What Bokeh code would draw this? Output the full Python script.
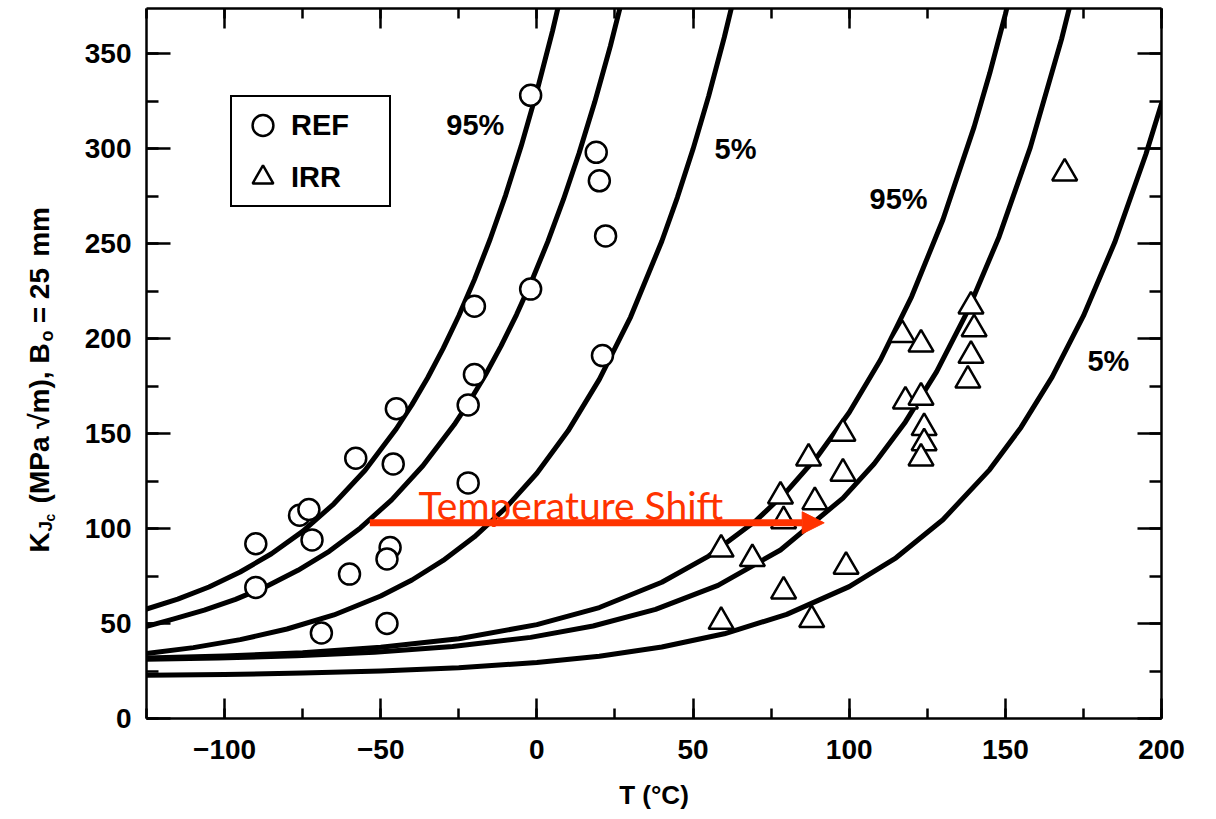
import math
from bokeh.plotting import figure
from bokeh.layouts import row
from bokeh.models import (Range1d, LinearAxis, SingleIntervalTicker, Arrow, NormalHead,
                          Legend, LegendItem, CustomJSTickFormatter)
from bokeh.core.properties import value
from bokeh.embed import file_html
from bokeh.resources import INLINE

FONT = "Liberation Sans"
RED = "#ff3300"

# ---------------- data ----------------
# measured toughness, reference (unirradiated) material
ref_temp = [-2, 19, 20, 22, -20, -2, 21, -20, -22, -45, -58, -46, -22, -76, -73, -72,
            -90, -90, -47, -48, -60, -69, -48]
ref_kjc = [328, 298, 283, 254, 217, 226, 191, 181, 165, 163, 137, 134, 124, 107, 110, 94,
           92, 69, 90, 84, 76, 45, 50]

# measured toughness, irradiated material
irr_temp = [59, 69, 59, 79, 88, 99, 78, 79, 89, 87, 98, 98, 118, 117, 123, 124, 124, 123,
            123, 139, 140, 139, 138, 169]
irr_kjc = [89, 84, 51, 67, 52, 80, 117, 104, 114, 137, 150, 129, 167, 202, 169, 153, 145,
           137, 197, 217, 205, 191, 178, 287]

# tolerance-bound curves, reference material
ref95_t = [-125, -115, -105, -95, -85, -75, -65, -55, -45, -40, -35, -30, -25, -20, -15,
           -10, -5, 0, 5, 10]
ref95_k = [57.6, 62.8, 69.2, 77.1, 86.7, 98.5, 113.0, 130.7, 152.5, 165.2, 179.2, 194.8,
           212.0, 231.0, 252.1, 275.5, 301.4, 330.1, 361.8, 396.9]
ref50_t = [-125, -116.5, -106.5, -96.5, -86.5, -76.5, -66.5, -56.5, -46.5, -36.5, -26.5,
           -21.5, -16.5, -11.5, -6.5, -1.5, 3.5, 8.5, 13.5, 18.5, 23.5, 28.5]
ref50_k = [48.5, 52.3, 57.0, 62.7, 69.6, 78.0, 88.0, 100.3, 115.1, 133.0, 154.6, 167.1,
           180.8, 196.0, 212.6, 230.9, 251.0, 273.2, 297.5, 324.3, 353.8, 386.3]
ref05_t = [-125, -110, -95, -80, -65, -50, -40, -30, -20, -10, 0, 10, 20, 30, 40, 45, 50,
           55, 60, 65]
ref05_k = [34.2, 37.3, 41.5, 47.1, 54.5, 64.5, 72.9, 83.2, 95.6, 110.8, 129.1, 151.4,
           178.5, 211.3, 251.2, 274.3, 299.7, 327.6, 358.5, 392.4]

# tolerance-bound curves, irradiated material
irr95_t = [-125, -100, -75, -50, -25, 0, 20, 40, 55, 70, 80, 90, 100, 110, 120, 130, 140,
           145, 150, 155]
irr95_k = [31.8, 32.9, 34.6, 37.5, 42.0, 49.4, 58.4, 71.7, 85.5, 103.9, 119.5, 138.3,
           161.1, 188.7, 222.1, 262.5, 311.4, 339.6, 370.6, 404.8]
irr50_t = [-125, -102, -77, -52, -27, -2, 18, 38, 58, 78, 98, 108, 118, 128, 138, 148, 158,
           168, 173]
irr50_k = [31.2, 31.9, 33.0, 34.9, 37.9, 42.7, 48.7, 57.4, 70.1, 88.7, 116.0, 134.1, 156.1,
           182.6, 214.7, 253.6, 300.6, 357.6, 390.4]
irr05_t = [-125, -100, -75, -50, -25, 0, 20, 40, 60, 80, 100, 115, 130, 145, 155, 165, 175,
           185, 195, 200]
irr05_k = [22.7, 23.2, 23.9, 25.0, 26.7, 29.5, 32.8, 37.6, 44.6, 54.8, 69.4, 84.6, 104.6,
           131.0, 153.2, 179.8, 211.9, 250.5, 297.0, 323.6]

# curve labels
curve_label_text = ["95%", "5%", "95%", "5%"]
curve_label_t = [-19.7, 63.6, 115.8, 183.0]
curve_label_k = [312.6, 300.0, 273.2, 188.4]

# temperature-shift arrow
shift_t_start, shift_t_end, shift_k = -53.5, 92.0, 103.0
shift_text = "Temperature Shift"
shift_text_t, shift_text_k = -37.9, 112.6

H = 818
k_range = Range1d(0, 373.7)

# ---------------- y-axis title (narrow panel sharing the K range) ----------------
ytitle_text = ["K", "J", "c", "(MPa \u221am), B", "o", "= 25", "mm"]
ytitle_x = [39, 44.7, 49.4, 39, 46, 39, 39]
ytitle_k = [87.4, 98.4, 103.7, 113.2, 198.4, 208.0, 243.0]
ytitle_size = ["28px", "19px", "14px", "28px", "18px", "28px", "28px"]

tfig = figure(width=60, height=H, x_range=Range1d(0, 60), y_range=k_range,
              output_backend="svg", toolbar_location=None, min_border=0,
              x_axis_type=None, y_axis_type=None)
tfig.outline_line_color = None
tfig.grid.visible = False
tfig.background_fill_color = "white"
tfig.border_fill_color = "white"
for txt, tx, ty, fs in zip(ytitle_text, ytitle_x, ytitle_k, ytitle_size):
    tfig.text(x=[tx], y=[ty], text=[txt], angle=math.pi / 2,
              text_font=value(FONT), text_font_size=fs, text_font_style="bold",
              text_align="left", text_baseline="middle", text_color="black")

# ---------------- main figure ----------------
p = figure(width=1150, height=H,
           x_range=Range1d(-125, 200), y_range=k_range,
           output_backend="svg", toolbar_location=None,
           min_border_left=86, min_border_right=49, min_border_top=8,
           min_border_bottom=H - 718)
p.grid.visible = False
p.outline_line_color = None
p.background_fill_color = "white"
p.border_fill_color = "white"


def style_axis(ax, major_in, minor_in, labels):
    ax.axis_line_color = "black"
    ax.axis_line_width = 2.5
    ax.major_tick_line_color = "black"
    ax.major_tick_line_width = 2.5
    ax.minor_tick_line_color = "black"
    ax.minor_tick_line_width = 2.5
    ax.major_tick_in = major_in
    ax.major_tick_out = 0
    ax.minor_tick_in = minor_in
    ax.minor_tick_out = 0
    if labels:
        ax.major_label_text_font = FONT
        ax.major_label_text_font_size = "28px"
        ax.major_label_text_font_style = "bold"
        ax.major_label_text_color = "black"
    else:
        ax.formatter = CustomJSTickFormatter(code="return ''")
        ax.major_label_text_font_size = "1px"
        ax.major_label_standoff = 0


xb = p.below[0]
xb.ticker = SingleIntervalTicker(interval=50, num_minor_ticks=2)
style_axis(xb, 20, 10, True)
xb.major_label_overrides = {-100: "\u2212100", -50: "\u221250"}
xb.major_label_standoff = 21
xb.axis_label = "T (\u00b0C)"
xb.axis_label_text_font = FONT
xb.axis_label_text_font_size = "26px"
xb.axis_label_text_font_style = "bold"
xb.axis_label_text_color = "black"
xb.axis_label_standoff = 18

yl = p.left[0]
yl.ticker = SingleIntervalTicker(interval=50, num_minor_ticks=2)
style_axis(yl, 24, 12, True)
yl.major_label_standoff = 15

xt = LinearAxis(ticker=SingleIntervalTicker(interval=50, num_minor_ticks=2))
style_axis(xt, 20, 10, False)
p.add_layout(xt, "above")
yr = LinearAxis(ticker=SingleIntervalTicker(interval=50, num_minor_ticks=2))
style_axis(yr, 24, 12, False)
p.add_layout(yr, "right")

# curves
for t, k in [(ref95_t, ref95_k), (ref50_t, ref50_k), (ref05_t, ref05_k),
             (irr95_t, irr95_k), (irr50_t, irr50_k), (irr05_t, irr05_k)]:
    p.line(t, k, line_color="black", line_width=5, line_join="round", line_cap="round")

# data points
r_ref = p.scatter(ref_temp, ref_kjc, marker="circle", size=21, fill_color="white",
                  line_color="black", line_width=2.5)
r_irr = p.scatter(irr_temp, irr_kjc, marker="triangle", size=25, fill_color="white",
                  line_color="black", line_width=2.5)

# curve labels
p.text(x=curve_label_t, y=curve_label_k, text=curve_label_text,
       text_font=value(FONT), text_font_size="29px", text_font_style="bold",
       text_align="center", text_baseline="middle", text_color="black")

# legend
legend = Legend(items=[LegendItem(label="REF", renderers=[r_ref]),
                       LegendItem(label="IRR", renderers=[r_irr])],
                location=(84, 511), margin=0, padding=2, spacing=0,
                glyph_width=57, glyph_height=52, label_standoff=-4,
                label_width=96, label_height=52,
                label_text_font=FONT, label_text_font_size="29px",
                label_text_font_style="bold", label_text_color="black",
                border_line_color="black", border_line_width=2.5, border_line_alpha=1.0,
                background_fill_color="white", background_fill_alpha=1.0)
p.add_layout(legend)

# temperature shift arrow + text
p.add_layout(Arrow(end=NormalHead(size=22, fill_color=RED, line_color=RED, line_width=1),
                   x_start=shift_t_start, y_start=shift_k, x_end=shift_t_end, y_end=shift_k,
                   line_color=RED, line_width=7))
p.text(x=[shift_text_t], y=[shift_text_k], text=[shift_text], text_font=value("Lato"),
       text_font_size="39px", text_color=RED, text_baseline="middle",
       text_align="left")

open("out.html", "w").write(file_html(row(tfig, p), INLINE))
